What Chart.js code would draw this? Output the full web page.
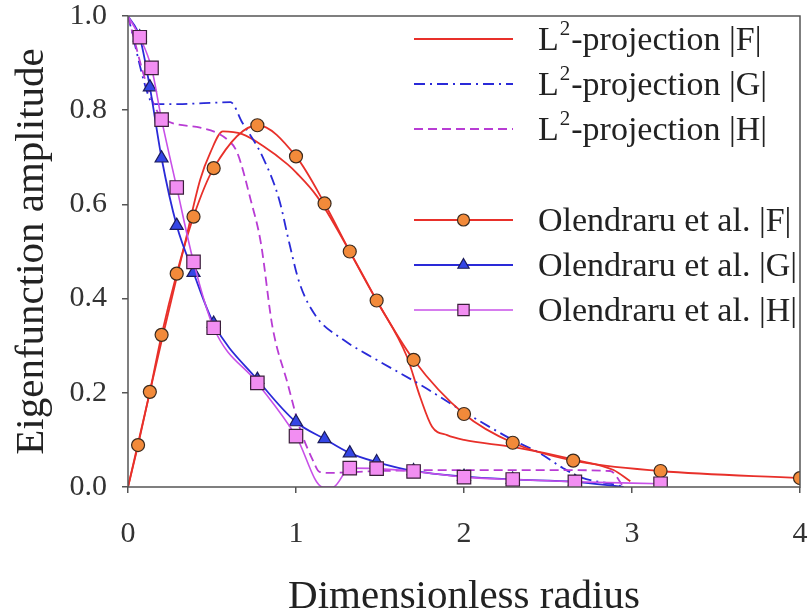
<!DOCTYPE html>
<html>
<head>
<meta charset="utf-8">
<script src="https://cdn.jsdelivr.net/npm/chart.js@4.4.1/dist/chart.umd.min.js"></script>
<style>
  html, body { margin: 0; padding: 0; background: #fff; }
  #wrap { width: 811px; height: 612px; }
</style>
</head>
<body>
<div id="wrap"><canvas id="eigen-chart" width="811" height="612"></canvas></div>
<script>
// L2-projection curves
const l2F_x = [0, 0.1, 0.2, 0.3, 0.33, 0.43, 0.49, 0.565, 0.68, 0.8, 0.95, 1.0, 1.125, 1.32, 1.48, 1.66, 1.74, 1.81, 1.9, 2.0, 2.29, 2.67, 2.89, 2.99];
const l2F_y = [0, 0.155, 0.31, 0.46, 0.504, 0.653, 0.71, 0.755, 0.749, 0.725, 0.685, 0.668, 0.617, 0.5, 0.396, 0.277, 0.19, 0.128, 0.11, 0.1, 0.085, 0.057, 0.036, 0.012];

const l2G_x = [0, 0.13, 0.16, 0.3, 0.45, 0.61, 0.68, 0.8, 0.9, 0.96, 1.02, 1.12, 1.28, 1.48, 1.75, 1.98, 2.29, 2.45, 2.59, 2.7, 2.91, 2.95];
const l2G_y = [1.0, 0.823, 0.813, 0.813, 0.815, 0.817, 0.774, 0.702, 0.61, 0.518, 0.434, 0.362, 0.313, 0.27, 0.215, 0.164, 0.1, 0.072, 0.04, 0.02, 0.004, 0];

const l2H_x = [0, 0.12, 0.2, 0.43, 0.59, 0.65, 0.73, 0.79, 0.86, 0.95, 1.02, 1.1, 1.14, 1.2, 1.5, 2.0, 2.5, 2.87, 2.95];
const l2H_y = [1.0, 0.845, 0.785, 0.763, 0.738, 0.71, 0.61, 0.52, 0.34, 0.22, 0.128, 0.057, 0.032, 0.03, 0.034, 0.036, 0.036, 0.034, 0];

// Olendraru et al. data
const olF_x = [0, 0.06, 0.13, 0.2, 0.29, 0.39, 0.51, 0.77, 1.0, 1.17, 1.32, 1.48, 1.7, 2.0, 2.29, 2.65, 3.17, 4.0];
const olF_y = [0, 0.089, 0.202, 0.323, 0.453, 0.574, 0.677, 0.768, 0.702, 0.602, 0.5, 0.396, 0.27, 0.155, 0.094, 0.056, 0.034, 0.019];

const olG_x = [0, 0.07, 0.13, 0.2, 0.29, 0.39, 0.51, 0.77, 1.0, 1.17, 1.32, 1.48, 1.7, 2.0, 2.29, 2.66, 2.95];
const olG_y = [1.0, 0.955, 0.849, 0.698, 0.555, 0.455, 0.347, 0.228, 0.138, 0.102, 0.072, 0.053, 0.034, 0.022, 0.016, 0.011, 0];

const olH_x = [0, 0.07, 0.14, 0.2, 0.29, 0.39, 0.51, 0.77, 1.0, 1.16, 1.22, 1.32, 1.48, 1.7, 2.0, 2.29, 2.66, 3.17];
const olH_y = [1.0, 0.955, 0.89, 0.78, 0.636, 0.478, 0.338, 0.221, 0.108, 0, 0, 0.04, 0.039, 0.033, 0.021, 0.016, 0.011, 0.007];

const xTicks = [0, 1, 2, 3, 4];
const yTicks = [0, 0.2, 0.4, 0.6, 0.8, 1.0];

const legendLabels = ['L²-projection |F|', 'L²-projection |G|', 'L²-projection |H|',
                      'Olendraru et al. |F|', 'Olendraru et al. |G|', 'Olendraru et al. |H|'];

const serif = '"Liberation Serif", "DejaVu Serif", serif';

function pts(xs, ys) {
  return xs.map((x, i) => ({x: x, y: ys[i]}));
}
// no marker on the end points that sit on the axes
function markerRadius(r) {
  return function(ctx) {
    const p = ctx.raw;
    if (!p || ctx.dataIndex === 0 || p.y === 0) return 0;
    return r;
  };
}

const datasets = [
  { label: legendLabels[0], data: pts(l2F_x, l2F_y), borderColor: '#e8302a', borderWidth: 1.8,
    pointRadius: 0, order: 6 },
  { label: legendLabels[1], data: pts(l2G_x, l2G_y), borderColor: '#2a2ad8', borderWidth: 1.8,
    borderDash: [11, 5, 2, 5], pointRadius: 0, order: 5 },
  { label: legendLabels[2], data: pts(l2H_x, l2H_y), borderColor: '#b83cd4', borderWidth: 1.8,
    borderDash: [9, 5], pointRadius: 0, order: 4 },
  { label: legendLabels[3], data: pts(olF_x, olF_y), borderColor: '#e8302a', borderWidth: 1.8,
    pointStyle: 'circle', pointRadius: markerRadius(6.5), pointBackgroundColor: '#f28a3a',
    pointBorderColor: '#3a2a1e', pointBorderWidth: 1.2, order: 3 },
  { label: legendLabels[4], data: pts(olG_x, olG_y), borderColor: '#2a2ad8', borderWidth: 1.8,
    pointStyle: 'triangle', pointRadius: markerRadius(7.5), pointBackgroundColor: '#3446e6',
    pointBorderColor: '#1c1c5a', pointBorderWidth: 1.2, order: 2 },
  { label: legendLabels[5], data: pts(olH_x, olH_y), borderColor: '#c850e8', borderWidth: 1.6,
    pointStyle: 'rect', pointRadius: markerRadius(9.5), pointBackgroundColor: '#f28ef2',
    pointBorderColor: '#3a1e3a', pointBorderWidth: 1.2, order: 1 },
];

// frame around the plot area
const framePlugin = {
  id: 'frame',
  afterDraw(chart) {
    const a = chart.chartArea, c = chart.ctx;
    c.save();
    c.strokeStyle = '#555';
    c.lineWidth = 1.5;
    c.strokeRect(a.left, a.top, a.right - a.left, a.bottom - a.top);
    c.restore();
  }
};

// legend inside the plot, blank row between the two groups
const legendPlugin = {
  id: 'innerLegend',
  afterDraw(chart) {
    const c = chart.ctx;
    const rows = [39, 84, 129, 220, 265, 310];
    const x0 = 414, x1 = 513, tx = 538;
    c.save();
    chart.data.datasets.forEach(function(ds, i) {
      const y = rows[i];
      c.strokeStyle = ds.borderColor;
      c.lineWidth = ds.borderWidth;
      c.setLineDash(ds.borderDash || []);
      c.beginPath();
      c.moveTo(x0, y);
      c.lineTo(x1, y);
      c.stroke();
      c.setLineDash([]);
      if (ds.pointStyle) {
        c.fillStyle = ds.pointBackgroundColor;
        c.strokeStyle = ds.pointBorderColor;
        c.lineWidth = ds.pointBorderWidth;
        const r = ds.pointStyle === 'rect' ? 8 : (ds.pointStyle === 'triangle' ? 6.5 : 6);
        Chart.helpers.drawPoint(c, {pointStyle: ds.pointStyle, radius: r, borderWidth: ds.pointBorderWidth}, (x0 + x1) / 2, y);
      }
      c.fillStyle = '#222';
      c.textBaseline = 'middle';
      c.textAlign = 'left';
      const txt = ds.label;
      if (txt.indexOf('L²') === 0) {
        c.font = '34px ' + serif;
        c.fillText('L', tx, y + 2);
        const wL = c.measureText('L').width;
        c.font = '21px ' + serif;
        c.fillText('2', tx + wL + 1, y - 10);
        const w2 = c.measureText('2').width;
        c.font = '34px ' + serif;
        c.fillText(txt.slice(2), tx + wL + w2 + 2, y + 2);
      } else {
        c.font = '34px ' + serif;
        c.fillText(txt, tx, y + 2);
      }
    });
    c.restore();
  }
};

new Chart(document.getElementById('eigen-chart'), {
  type: 'line',
  data: { datasets: datasets },
  options: {
    responsive: false,
    animation: false,
    layout: { padding: { top: 16, right: 11, left: 0, bottom: 0 } },
    elements: { line: { cubicInterpolationMode: 'monotone' } },
    plugins: { legend: { display: false }, tooltip: { enabled: false } },
    scales: {
      x: {
        type: 'linear', min: 0, max: 4,
        afterFit(s) { s.height = 125; s.paddingLeft = 0; s.paddingRight = 0; },
        afterBuildTicks(s) { s.ticks = xTicks.map(v => ({value: v})); },
        ticks: { color: '#333', padding: 23, font: { family: serif, size: 30 } },
        grid: { drawOnChartArea: false, drawTicks: true, tickLength: 6, color: '#555', lineWidth: 1.5 },
        border: { display: false },
        title: { display: true, text: 'Dimensionless radius', color: '#222',
                 font: { family: serif, size: 41, lineHeight: 0.7 }, padding: { top: 0, bottom: 0 } }
      },
      y: {
        type: 'linear', min: 0, max: 1,
        afterFit(s) { s.width = 128; s.paddingTop = 0; s.paddingBottom = 0; },
        afterBuildTicks(s) { s.ticks = yTicks.map(v => ({value: v})); },
        ticks: { color: '#333', padding: 15, font: { family: serif, size: 30 },
                 callback: v => v.toFixed(1) },
        grid: { drawOnChartArea: false, drawTicks: true, tickLength: 6, color: '#555', lineWidth: 1.5 },
        border: { display: false },
        title: { display: true, text: 'Eigenfunction amplitude', color: '#222',
                 font: { family: serif, size: 41 }, padding: { top: 8, bottom: 0 } }
      }
    }
  },
  plugins: [framePlugin, legendPlugin]
});
</script>
</body>
</html>
